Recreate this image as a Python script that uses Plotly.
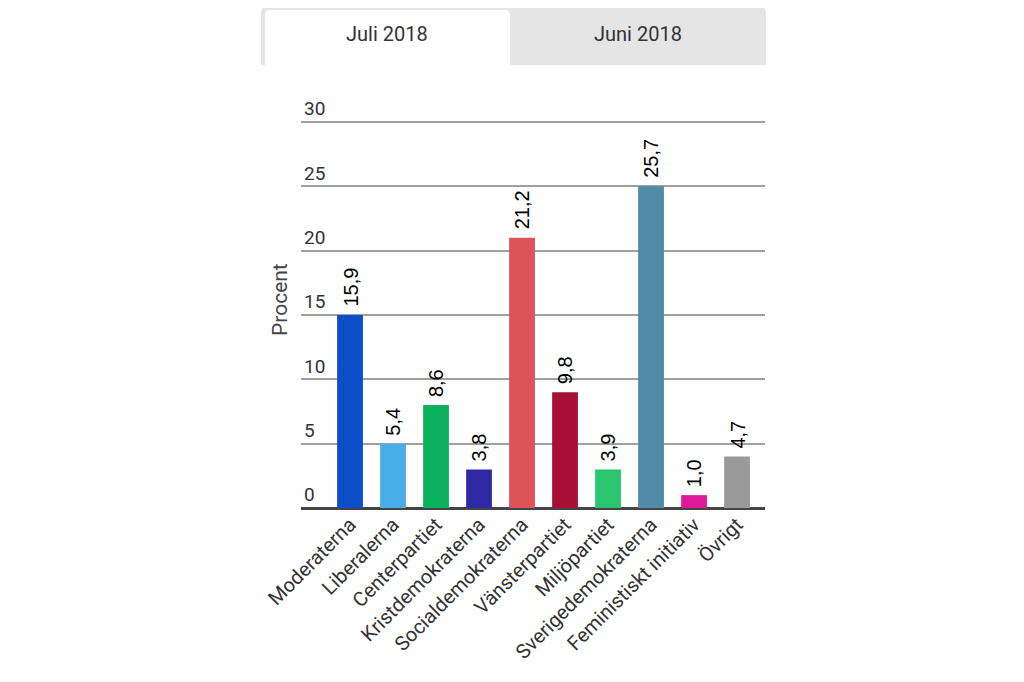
import math
import plotly.graph_objects as go

parties = ["Moderaterna", "Liberalerna", "Centerpartiet", "Kristdemokraterna",
           "Socialdemokraterna", "Vänsterpartiet", "Miljöpartiet",
           "Sverigedemokraterna", "Feministiskt initiativ", "Övrigt"]
values = [15.9, 5.4, 8.6, 3.8, 21.2, 9.8, 3.9, 25.7, 1.0, 4.7]
colors = ["#0b4ec7", "#4aaee6", "#0db25f", "#2e2aa6", "#de5358",
          "#a80f35", "#2ac56f", "#4f8aa6", "#e0189b", "#9a9a9a"]
y_ticks = [0, 5, 10, 15, 20, 25, 30]
tabs = ["Juli 2018", "Juni 2018"]
y_title = "Procent"

# the source chart draws bars at whole-percent heights, labels with decimals
heights = [math.floor(v) for v in values]
labels = [f"{v:.1f}".replace(".", ",") for v in values]

# page has an 8px body margin; coordinates below are absolute page pixels
OFF = 8
W, H = 1024 - OFF, 682 - OFF
L, R, T, B = 301, 765, 96, 508
PX_PER_UNIT = (508 - 122) / 30.0
y_top = (B - T) / PX_PER_UNIT

def px(x):
    return (x - L) / (R - L)
def py(y):
    return (B - y) / (B - T)

xs = list(range(len(parties)))
fig = go.Figure(go.Bar(
    x=xs, y=heights, marker_color=colors, width=0.6,
    marker_line_width=0, hoverinfo="skip",
))

def rpath(x0, y0, x1, y1, r):
    return (f"M {px(x0)},{py(y1)} L {px(x0)},{py(y0 + r)} "
            f"Q {px(x0)},{py(y0)} {px(x0 + r)},{py(y0)} "
            f"L {px(x1 - r)},{py(y0)} Q {px(x1)},{py(y0)} {px(x1)},{py(y0 + r)} "
            f"L {px(x1)},{py(y1)} Z")

shapes = [
    dict(type="path", xref="paper", yref="paper", path=rpath(261, 6, 766, 65, 7),
         fillcolor="#e5e5e5", line=dict(width=0), layer="below"),
    dict(type="path", xref="paper", yref="paper", path=rpath(265, 10, 510, 66, 5),
         fillcolor="#ffffff", line=dict(width=0), layer="below"),
]
annotations = [
    dict(text=tabs[0], x=px(387), y=py(34), xref="paper", yref="paper",
         xanchor="center", yanchor="middle", showarrow=False,
         font=dict(family="Roboto", size=20, color="#333")),
    dict(text=tabs[1], x=px(638), y=py(34), xref="paper", yref="paper",
         xanchor="center", yanchor="middle", showarrow=False,
         font=dict(family="Roboto", size=20, color="#333")),
    dict(text=y_title, x=px(280), y=py(300), xref="paper", yref="paper",
         xanchor="center", yanchor="middle", textangle=-90, showarrow=False,
         font=dict(family="Roboto", size=21, color="#444")),
]
for xi, h, lab in zip(xs, heights, labels):
    annotations.append(dict(
        text=lab, x=xi, y=h, xref="x", yref="y", xanchor="center",
        yanchor="bottom", yshift=6, textangle=-90, showarrow=False,
        font=dict(family="Liberation Sans, Arial", size=20, color="#000"),
    ))

fig.update_layout(
    width=W, height=H,
    margin=dict(l=L - OFF, r=OFF + W - R, t=T - OFF, b=OFF + H - B, pad=0),
    paper_bgcolor="white", plot_bgcolor="white",
    showlegend=False, shapes=shapes, annotations=annotations,
    font=dict(family="Roboto", color="#333"),
)
fig.update_xaxes(
    range=[-1.14, 9.65], tickmode="array", tickvals=xs,
    ticktext=parties, tickangle=-45, showgrid=False, zeroline=False,
    tickfont=dict(family="Roboto", size=20, color="#333"), ticks="",
    showline=False, automargin=False,
)
fig.update_yaxes(
    range=[0, y_top], tickvals=y_ticks, ticklabelposition="inside top",
    showgrid=True, gridcolor="#a0a0a0", gridwidth=1.5,
    zeroline=True, zerolinecolor="#444", zerolinewidth=3,
    tickfont=dict(family="Roboto", size=19, color="#333"),
    showline=False, automargin=False,
)

fig.write_html("out.html")
